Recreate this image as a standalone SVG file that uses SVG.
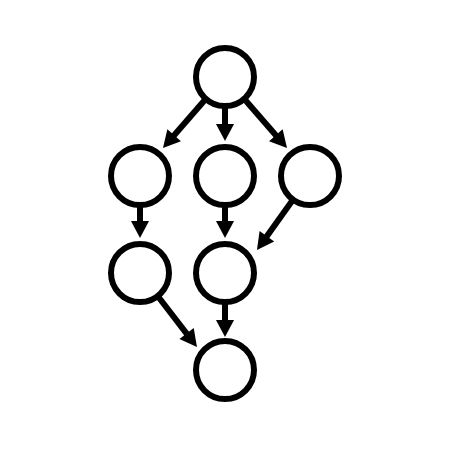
<svg xmlns="http://www.w3.org/2000/svg" width="450" height="450" viewBox="0 0 450 450">
<defs>
<style>
.node circle{fill:#fff;stroke:#000;stroke-width:6}
.edge{stroke:#000;stroke-width:6;fill:none;marker-end:url(#ah)}
</style>
<marker id="ah" markerUnits="userSpaceOnUse" markerWidth="20" markerHeight="20" refX="1" refY="0" viewBox="0 -10 20 20" orient="auto" overflow="visible">
<path d="M0,-9 L17,0 L0,9 Z" fill="#000"/>
</marker>
</defs>
<rect width="450" height="450" fill="#fff"/>
<g id="connectors">
<line class="edge" x1="205.9" y1="98.8" x2="173.5" y2="136"/>
<line class="edge" x1="225" y1="106" x2="225" y2="125"/>
<line class="edge" x1="244.1" y1="98.8" x2="276.5" y2="136"/>
<line class="edge" x1="140" y1="205" x2="140" y2="222"/>
<line class="edge" x1="225" y1="205" x2="225" y2="222"/>
<line class="edge" x1="293.1" y1="199.6" x2="266.3" y2="237"/>
<line class="edge" x1="157.7" y1="296" x2="187.2" y2="334.3"/>
<line class="edge" x1="225" y1="302" x2="225" y2="321"/>
</g>
<g id="n1" class="node"><circle cx="225" cy="77" r="29"/></g>
<g id="n2" class="node"><circle cx="140" cy="176" r="29"/></g>
<g id="n3" class="node"><circle cx="225" cy="176" r="29"/></g>
<g id="n4" class="node"><circle cx="310" cy="176" r="29"/></g>
<g id="n5" class="node"><circle cx="140" cy="273" r="29"/></g>
<g id="n6" class="node"><circle cx="225" cy="273" r="29"/></g>
<g id="n7" class="node"><circle cx="225" cy="370" r="29"/></g>
</svg>
